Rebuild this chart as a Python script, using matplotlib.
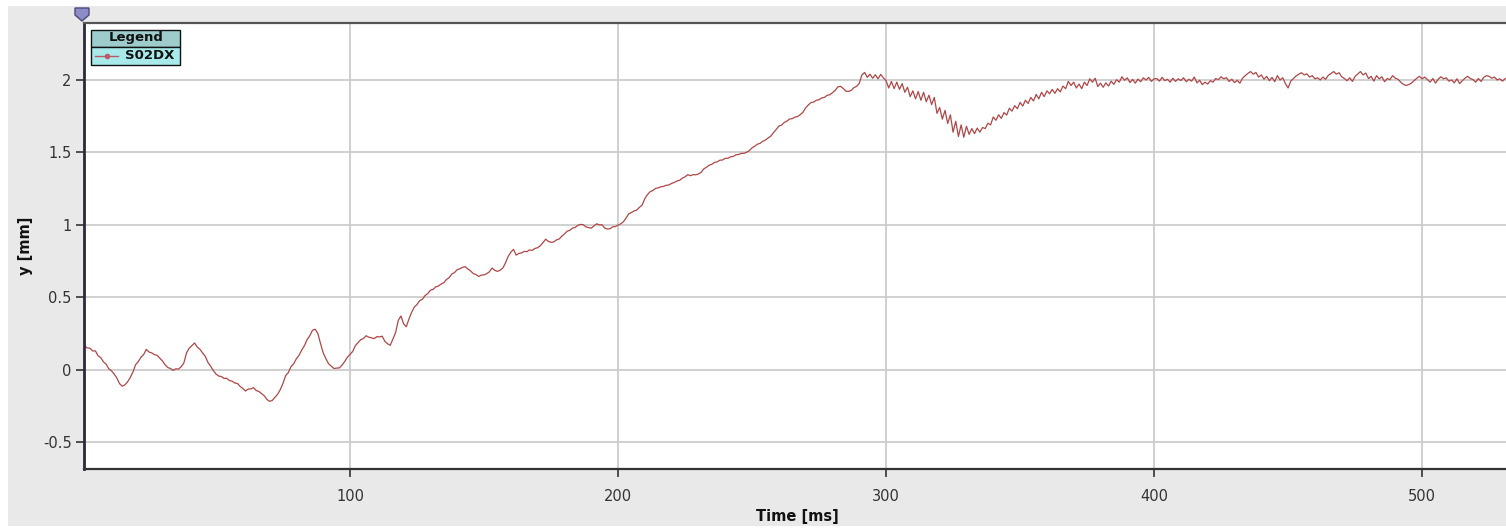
import matplotlib
matplotlib.use("Agg")
import matplotlib.pyplot as plt
from matplotlib.patches import Rectangle, Polygon
import numpy as np

# S02DX trace, 1 ms steps starting at t = 1 ms
s02dx = [
    0.165, 0.152, 0.150, 0.131, 0.132, 0.098, 0.085, 0.056, 0.040, 0.008,
    -0.006, -0.028, -0.055, -0.094, -0.112, -0.103, -0.082, -0.052, -0.014, 0.036,
    0.058, 0.088, 0.106, 0.142, 0.124, 0.118, 0.106, 0.101, 0.082, 0.063,
    0.036, 0.017, 0.010, -0.003, 0.008, 0.006, 0.022, 0.048, 0.118, 0.150,
    0.168, 0.186, 0.158, 0.143, 0.117, 0.094, 0.052, 0.026, -0.004, -0.028,
    -0.042, -0.045, -0.058, -0.057, -0.073, -0.077, -0.090, -0.093, -0.113, -0.128,
    -0.145, -0.132, -0.130, -0.122, -0.142, -0.148, -0.163, -0.178, -0.203, -0.216,
    -0.210, -0.188, -0.167, -0.135, -0.092, -0.038, -0.018, 0.024, 0.043, 0.078,
    0.102, 0.138, 0.168, 0.210, 0.236, 0.274, 0.281, 0.252, 0.182, 0.118,
    0.078, 0.043, 0.027, 0.010, 0.013, 0.014, 0.033, 0.058, 0.087, 0.108,
    0.128, 0.168, 0.188, 0.209, 0.217, 0.236, 0.226, 0.222, 0.216, 0.230,
    0.228, 0.233, 0.198, 0.181, 0.170, 0.213, 0.258, 0.342, 0.372, 0.318,
    0.298, 0.352, 0.398, 0.434, 0.452, 0.478, 0.488, 0.513, 0.527, 0.550,
    0.556, 0.573, 0.579, 0.593, 0.602, 0.624, 0.637, 0.662, 0.672, 0.692,
    0.698, 0.708, 0.712, 0.696, 0.683, 0.665, 0.658, 0.645, 0.654, 0.656,
    0.664, 0.677, 0.703, 0.687, 0.680, 0.688, 0.703, 0.738, 0.783, 0.812,
    0.832, 0.792, 0.804, 0.807, 0.818, 0.816, 0.828, 0.825, 0.838, 0.843,
    0.857, 0.878, 0.902, 0.887, 0.880, 0.883, 0.897, 0.903, 0.922, 0.938,
    0.957, 0.963, 0.978, 0.983, 0.997, 1.004, 1.002, 0.987, 0.982, 0.978,
    0.993, 1.008, 1.001, 1.002, 0.979, 0.972, 0.974, 0.987, 0.989, 0.999,
    1.008, 1.022, 1.048, 1.077, 1.086, 1.097, 1.103, 1.122, 1.138, 1.182,
    1.210, 1.230, 1.238, 1.252, 1.256, 1.264, 1.266, 1.274, 1.276, 1.287,
    1.293, 1.304, 1.308, 1.323, 1.332, 1.347, 1.340, 1.347, 1.346, 1.352,
    1.363, 1.387, 1.398, 1.412, 1.418, 1.432, 1.435, 1.447, 1.448, 1.460,
    1.460, 1.470, 1.473, 1.484, 1.486, 1.494, 1.494, 1.502, 1.513, 1.532,
    1.543, 1.557, 1.563, 1.577, 1.586, 1.600, 1.613, 1.637, 1.658, 1.682,
    1.688, 1.707, 1.716, 1.731, 1.733, 1.744, 1.748, 1.761, 1.778, 1.807,
    1.828, 1.844, 1.848, 1.860, 1.864, 1.876, 1.880, 1.894, 1.898, 1.912,
    1.928, 1.952, 1.956, 1.942, 1.923, 1.921, 1.928, 1.947, 1.956, 1.977,
    2.035, 2.052, 2.018, 2.040, 2.012, 2.036, 2.008, 2.038, 2.015, 1.995,
    1.945, 1.990, 1.940, 1.985, 1.935, 1.975, 1.915, 1.950, 1.885, 1.925,
    1.870, 1.920, 1.860, 1.915, 1.850, 1.895, 1.830, 1.880, 1.770, 1.810,
    1.730, 1.790, 1.700, 1.760, 1.640, 1.715, 1.610, 1.690, 1.605, 1.680,
    1.625, 1.665, 1.630, 1.668, 1.640, 1.672, 1.665, 1.702, 1.690, 1.745,
    1.722, 1.760, 1.735, 1.775, 1.758, 1.805, 1.785, 1.823, 1.802, 1.845,
    1.820, 1.860, 1.838, 1.880, 1.855, 1.900, 1.870, 1.915, 1.885, 1.925,
    1.905, 1.935, 1.908, 1.940, 1.918, 1.958, 1.940, 1.990, 1.962, 1.985,
    1.945, 1.972, 1.940, 1.985, 1.962, 2.008, 1.985, 2.012, 1.955, 1.978,
    1.950, 1.980, 1.958, 1.992, 1.970, 2.002, 1.985, 2.022, 1.998, 2.015,
    1.982, 2.004, 1.978, 2.006, 1.988, 2.015, 2.000, 2.018, 1.990, 2.008,
    2.010, 1.992, 2.018, 1.995, 2.005, 1.985, 2.012, 1.990, 2.008, 1.996,
    2.015, 1.988, 2.005, 1.992, 2.020, 1.980, 1.998, 1.968, 1.985, 1.972,
    1.995, 1.985, 2.010, 2.002, 2.022, 2.008, 2.016, 1.990, 2.005, 1.982,
    1.998, 1.978, 2.012, 2.030, 2.045, 2.058, 2.040, 2.052, 2.020, 2.035,
    2.005, 2.025, 1.995, 2.018, 1.988, 2.030, 2.000, 2.015, 1.975, 1.945,
    1.992, 2.010, 2.028, 2.040, 2.050, 2.035, 2.042, 2.020, 2.030, 2.008,
    2.015, 2.000, 2.020, 2.005, 2.032, 2.045, 2.058, 2.040, 2.050, 2.022,
    2.010, 1.995, 2.015, 1.990, 2.025, 2.042, 2.058, 2.035, 2.048, 2.010,
    2.025, 1.992, 2.030, 2.008, 2.022, 1.988, 2.010, 2.002, 2.030, 2.012,
    2.005, 1.985, 1.970, 1.962, 1.968, 1.978, 1.995, 2.012, 2.025, 2.008,
    2.020, 2.002, 1.985, 2.010, 1.978, 2.005, 2.022, 2.008, 2.015, 1.992,
    2.000, 1.980, 2.008, 1.975, 1.995, 2.012, 2.025, 2.010, 2.002, 1.985,
    2.010, 1.990, 2.018, 2.030, 2.025, 2.012, 2.020, 2.000, 2.008, 1.992, 2.010,
]
time_ms = np.arange(1, len(s02dx) + 1)
x_ticks = [100, 200, 300, 400, 500]
y_ticks = [-0.5, 0, 0.5, 1, 1.5, 2]
y_tick_labels = ["-0.5", "0", "0.5", "1", "1.5", "2"]

W, H = 1506, 528
fig = plt.figure(figsize=(W / 100, H / 100), dpi=100, facecolor="white")

# grey panel behind everything
bg = fig.add_axes([0, 0, 1, 1], zorder=0)
bg.set_xlim(0, W)
bg.set_ylim(H, 0)
bg.axis("off")
bg.add_patch(Rectangle((8, 6), W - 8, 520, facecolor="#e9e9e9", edgecolor="none"))

# plot area (pixels): x 84..1506, y 22.7..469.3
ax = fig.add_axes([84 / W, (H - 469.3) / H, 1 - 84 / W, (469.3 - 22.7) / H], zorder=1)
ax.set_facecolor("white")
ax.plot(time_ms, s02dx, color="#b04646", lw=0.9)
ax.set_xlim(0.75, 531.3)
ax.set_ylim(-0.685, 2.395)
ax.set_xticks(x_ticks)
ax.set_yticks(y_ticks)
ax.set_yticklabels(y_tick_labels)
ax.grid(True, color="#c8c8c8", lw=1.2)
ax.set_axisbelow(True)
ax.tick_params(axis="x", direction="out", length=6, width=1.2, pad=8,
               labelsize=10.5, colors="#333333")
ax.tick_params(axis="y", direction="out", length=6, width=1.2, pad=3,
               labelsize=10.5, colors="#333333")
ax.spines["right"].set_visible(False)
ax.spines["left"].set_color("#2a2a3a")
ax.spines["left"].set_linewidth(2)
ax.spines["bottom"].set_color("#333333")
ax.spines["bottom"].set_linewidth(1.6)
ax.spines["top"].set_color("#555555")
ax.spines["top"].set_linewidth(1.6)

# overlay for axis titles, legend and the slider marker
ov = fig.add_axes([0, 0, 1, 1], zorder=2)
ov.set_xlim(0, W)
ov.set_ylim(H, 0)
ov.axis("off")
ov.patch.set_alpha(0)

ov.text(797, 516, "Time [ms]", ha="center", va="center", fontsize=10.5,
        fontweight="bold", color="#111111")
ov.text(26, 246, "y [mm]", ha="center", va="center", rotation=90, fontsize=10.5,
        fontweight="bold", color="#111111")

ov.add_patch(Polygon([(75, 8), (89, 8), (89, 15), (82, 21), (75, 15)], closed=True,
                     facecolor="#8c8cc8", edgecolor="#4a4a78", lw=1))

ov.add_patch(Rectangle((91.5, 29.5), 89, 17, facecolor="#9ecccc", edgecolor="#111111", lw=1))
ov.add_patch(Rectangle((91.5, 46.5), 89, 18, facecolor="#a8eaea", edgecolor="#111111", lw=1))
ov.text(136, 38, "Legend", ha="center", va="center", fontsize=9.5, fontweight="bold",
        color="#111111")
ov.plot([95, 118], [55.5, 55.5], color="#b85a6a", lw=1)
ov.plot([107], [55.5], "o", color="#b85a6a", ms=3)
ov.text(125, 55.5, "S02DX", ha="left", va="center", fontsize=9.5, fontweight="bold",
        color="#111111")

fig.savefig("out.png", dpi=100, facecolor="white")
